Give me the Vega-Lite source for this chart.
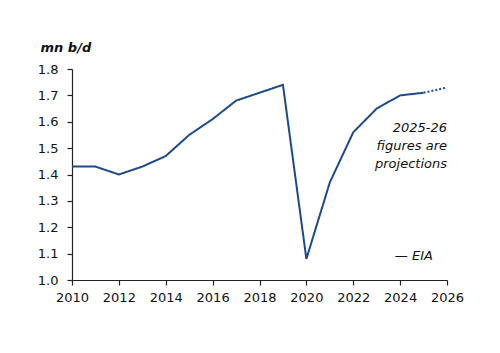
{
  "$schema": "https://vega.github.io/schema/vega-lite/v6.json",
  "width": 375,
  "height": 211,
  "autosize": "none",
  "padding": {"left": 72, "top": 69, "right": 53, "bottom": 73},
  "background": "white",
  "config": {
    "view": {"stroke": null},
    "font": "DejaVu Sans",
    "axis": {"grid": false, "domainColor": "#222", "tickColor": "#222", "labelColor": "#111", "labelFontSize": 13, "tickSize": 5, "domainWidth": 1.2, "tickWidth": 1.2, "labelOverlap": false}
  },
  "encoding": {
    "x": {"type": "quantitative", "scale": {"domain": [2010, 2026], "nice": false, "zero": false},
          "axis": {"values": [2010, 2012, 2014, 2016, 2018, 2020, 2022, 2024, 2026], "tickCount": 20, "format": "d", "title": null, "labelPadding": 6, "labelFlush": false}},
    "y": {"type": "quantitative", "scale": {"domain": [1.0, 1.8], "nice": false, "zero": false},
          "axis": {"values": [1.0, 1.1, 1.2, 1.3, 1.4, 1.5, 1.6, 1.7, 1.8], "tickCount": 20, "labelOverlap": false, "format": ".1f", "labelPadding": 9,
                   "title": "mn b/d", "titleAngle": 0, "titleAlign": "left", "titleBaseline": "alphabetic", "titleX": -32, "titleY": -18,
                   "titleFontSize": 13, "titleFontStyle": "italic", "titleFontWeight": "bold", "titleColor": "#111"}}
  },
  "layer": [
    {
      "data": {
        "values": [
          {"year": 2010, "value": 1.43, "series": "actual"},
          {"year": 2011, "value": 1.43, "series": "actual"},
          {"year": 2012, "value": 1.40, "series": "actual"},
          {"year": 2013, "value": 1.43, "series": "actual"},
          {"year": 2014, "value": 1.47, "series": "actual"},
          {"year": 2015, "value": 1.55, "series": "actual"},
          {"year": 2016, "value": 1.61, "series": "actual"},
          {"year": 2017, "value": 1.68, "series": "actual"},
          {"year": 2018, "value": 1.71, "series": "actual"},
          {"year": 2019, "value": 1.74, "series": "actual"},
          {"year": 2020, "value": 1.08, "series": "actual"},
          {"year": 2021, "value": 1.37, "series": "actual"},
          {"year": 2022, "value": 1.56, "series": "actual"},
          {"year": 2023, "value": 1.65, "series": "actual"},
          {"year": 2024, "value": 1.70, "series": "actual"},
          {"year": 2025, "value": 1.71, "series": "actual"},
          {"year": 2025, "value": 1.71, "series": "projection"},
          {"year": 2026, "value": 1.73, "series": "projection"}
        ]
      },
      "mark": {"type": "line", "color": "#1d4a8a", "strokeWidth": 2},
      "encoding": {
        "x": {"field": "year"},
        "y": {"field": "value"},
        "strokeDash": {"field": "series", "type": "nominal", "scale": {"domain": ["actual", "projection"], "range": [[1, 0], [2, 2]]}, "legend": null}
      }
    },
    {
      "data": {"values": [{"note": "projection"}]},
      "mark": {"type": "text", "text": ["2025-26", "figures are", "projections"], "align": "right", "baseline": "top", "fontStyle": "italic", "fontWeight": "normal", "fontSize": 13, "lineHeight": 18, "fill": "#111"},
      "encoding": {"x": {"datum": 2026}, "y": {"datum": 1.6}}
    },
    {
      "data": {"values": [{"note": "source"}]},
      "mark": {"type": "text", "text": "— EIA", "align": "right", "baseline": "middle", "fontStyle": "italic", "fontWeight": "normal", "fontSize": 13, "fill": "#111"},
      "encoding": {"x": {"datum": 2025.4}, "y": {"datum": 1.09}}
    }
  ]
}
